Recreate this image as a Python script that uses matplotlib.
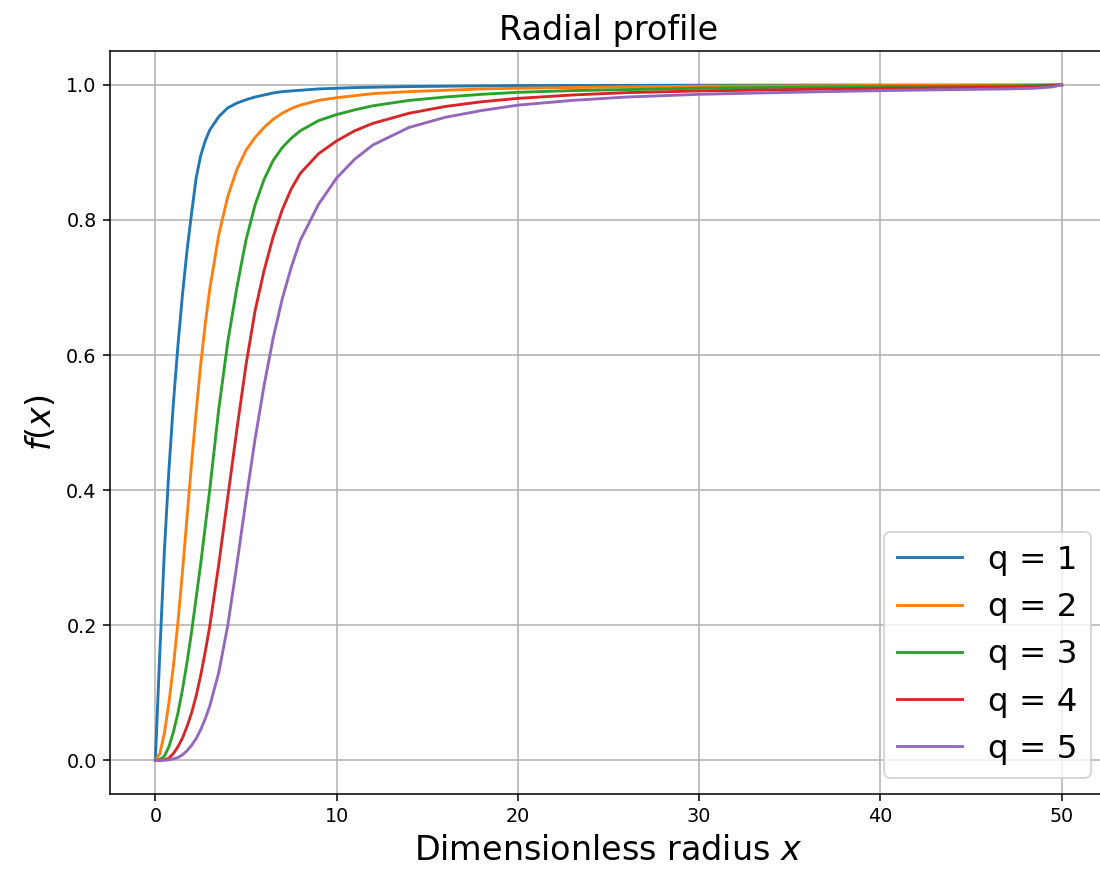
#!/usr/bin/env python3
import matplotlib

matplotlib.use("Agg")
import matplotlib.pyplot as plt

# radius samples shared by all curves
X = [0, 0.25, 0.5, 0.75, 1, 1.25, 1.5, 1.75, 2, 2.25, 2.5, 2.75, 3, 3.5, 4,
     4.5, 5, 5.5, 6, 6.5, 7, 7.5, 8, 9, 10, 11, 12, 14, 16, 18, 20, 23, 26,
     30, 35, 40, 44, 47, 48.5, 49.5, 50]

# f(x) values, one list per winding number q
F_Q1 = [0, 0.16, 0.31, 0.43, 0.53, 0.615, 0.69, 0.755, 0.81, 0.862, 0.895,
        0.917, 0.933, 0.953, 0.966, 0.973, 0.978, 0.982, 0.985, 0.988, 0.990,
        0.991, 0.992, 0.994, 0.995, 0.996, 0.9965, 0.9975, 0.998, 0.9985,
        0.999, 0.9991, 0.9993, 0.9995, 0.9996, 0.9997, 0.9997, 0.9998,
        0.9998, 0.9999, 1.0]
F_Q2 = [0, 0.01, 0.04, 0.085, 0.14, 0.205, 0.28, 0.36, 0.44, 0.515, 0.585,
        0.645, 0.697, 0.778, 0.835, 0.875, 0.903, 0.922, 0.937, 0.949, 0.958,
        0.965, 0.970, 0.977, 0.981, 0.984, 0.987, 0.990, 0.992, 0.994, 0.995,
        0.996, 0.997, 0.998, 0.9985, 0.999, 0.9992, 0.9994, 0.9995, 0.9998,
        1.0]
F_Q3 = [0, 0.001, 0.006, 0.02, 0.042, 0.07, 0.105, 0.145, 0.19, 0.24, 0.29,
        0.345, 0.40, 0.52, 0.62, 0.70, 0.77, 0.822, 0.86, 0.888, 0.907,
        0.921, 0.932, 0.947, 0.956, 0.963, 0.969, 0.977, 0.982, 0.986, 0.989,
        0.9915, 0.993, 0.995, 0.9965, 0.9975, 0.998, 0.9985, 0.999, 0.9994,
        1.0]
F_Q4 = [0, 0, 0.0005, 0.003, 0.01, 0.02, 0.033, 0.05, 0.07, 0.095, 0.125,
        0.16, 0.198, 0.29, 0.39, 0.49, 0.585, 0.665, 0.725, 0.775, 0.815,
        0.846, 0.869, 0.898, 0.917, 0.932, 0.943, 0.958, 0.968, 0.975, 0.980,
        0.985, 0.9885, 0.991, 0.993, 0.9948, 0.9958, 0.9966, 0.9975, 0.9988,
        1.0]
F_Q5 = [0, 0, 0, 0.0005, 0.002, 0.004, 0.008, 0.014, 0.022, 0.032, 0.045,
        0.061, 0.08, 0.13, 0.20, 0.29, 0.385, 0.475, 0.555, 0.625, 0.683,
        0.73, 0.77, 0.823, 0.862, 0.890, 0.911, 0.937, 0.952, 0.962, 0.970,
        0.977, 0.982, 0.986, 0.989, 0.9915, 0.993, 0.994, 0.995, 0.997, 1.0]

Q_LABELS = ["q = 1", "q = 2", "q = 3", "q = 4", "q = 5"]
PROFILES = [F_Q1, F_Q2, F_Q3, F_Q4, F_Q5]


def main() -> None:
    dpi = 137.5
    fig = plt.figure(figsize=(1100 / dpi, 875 / dpi), dpi=dpi)
    ax = fig.add_axes([0.1, 0.0926, 0.9064, 0.849])

    for label, f in zip(Q_LABELS, PROFILES):
        ax.plot(X, f, linewidth=1.5, label=label)

    ax.set_title("Radial profile", fontsize=17.5)
    ax.set_xlabel("Dimensionless radius $x$", fontsize=17.5)
    ax.set_ylabel("$f(x)$", fontsize=17.5)
    ax.grid(True)
    ax.legend(loc="lower right", fontsize=17)

    fig.savefig("out.png", dpi=dpi)
    plt.close(fig)


if __name__ == "__main__":
    main()
